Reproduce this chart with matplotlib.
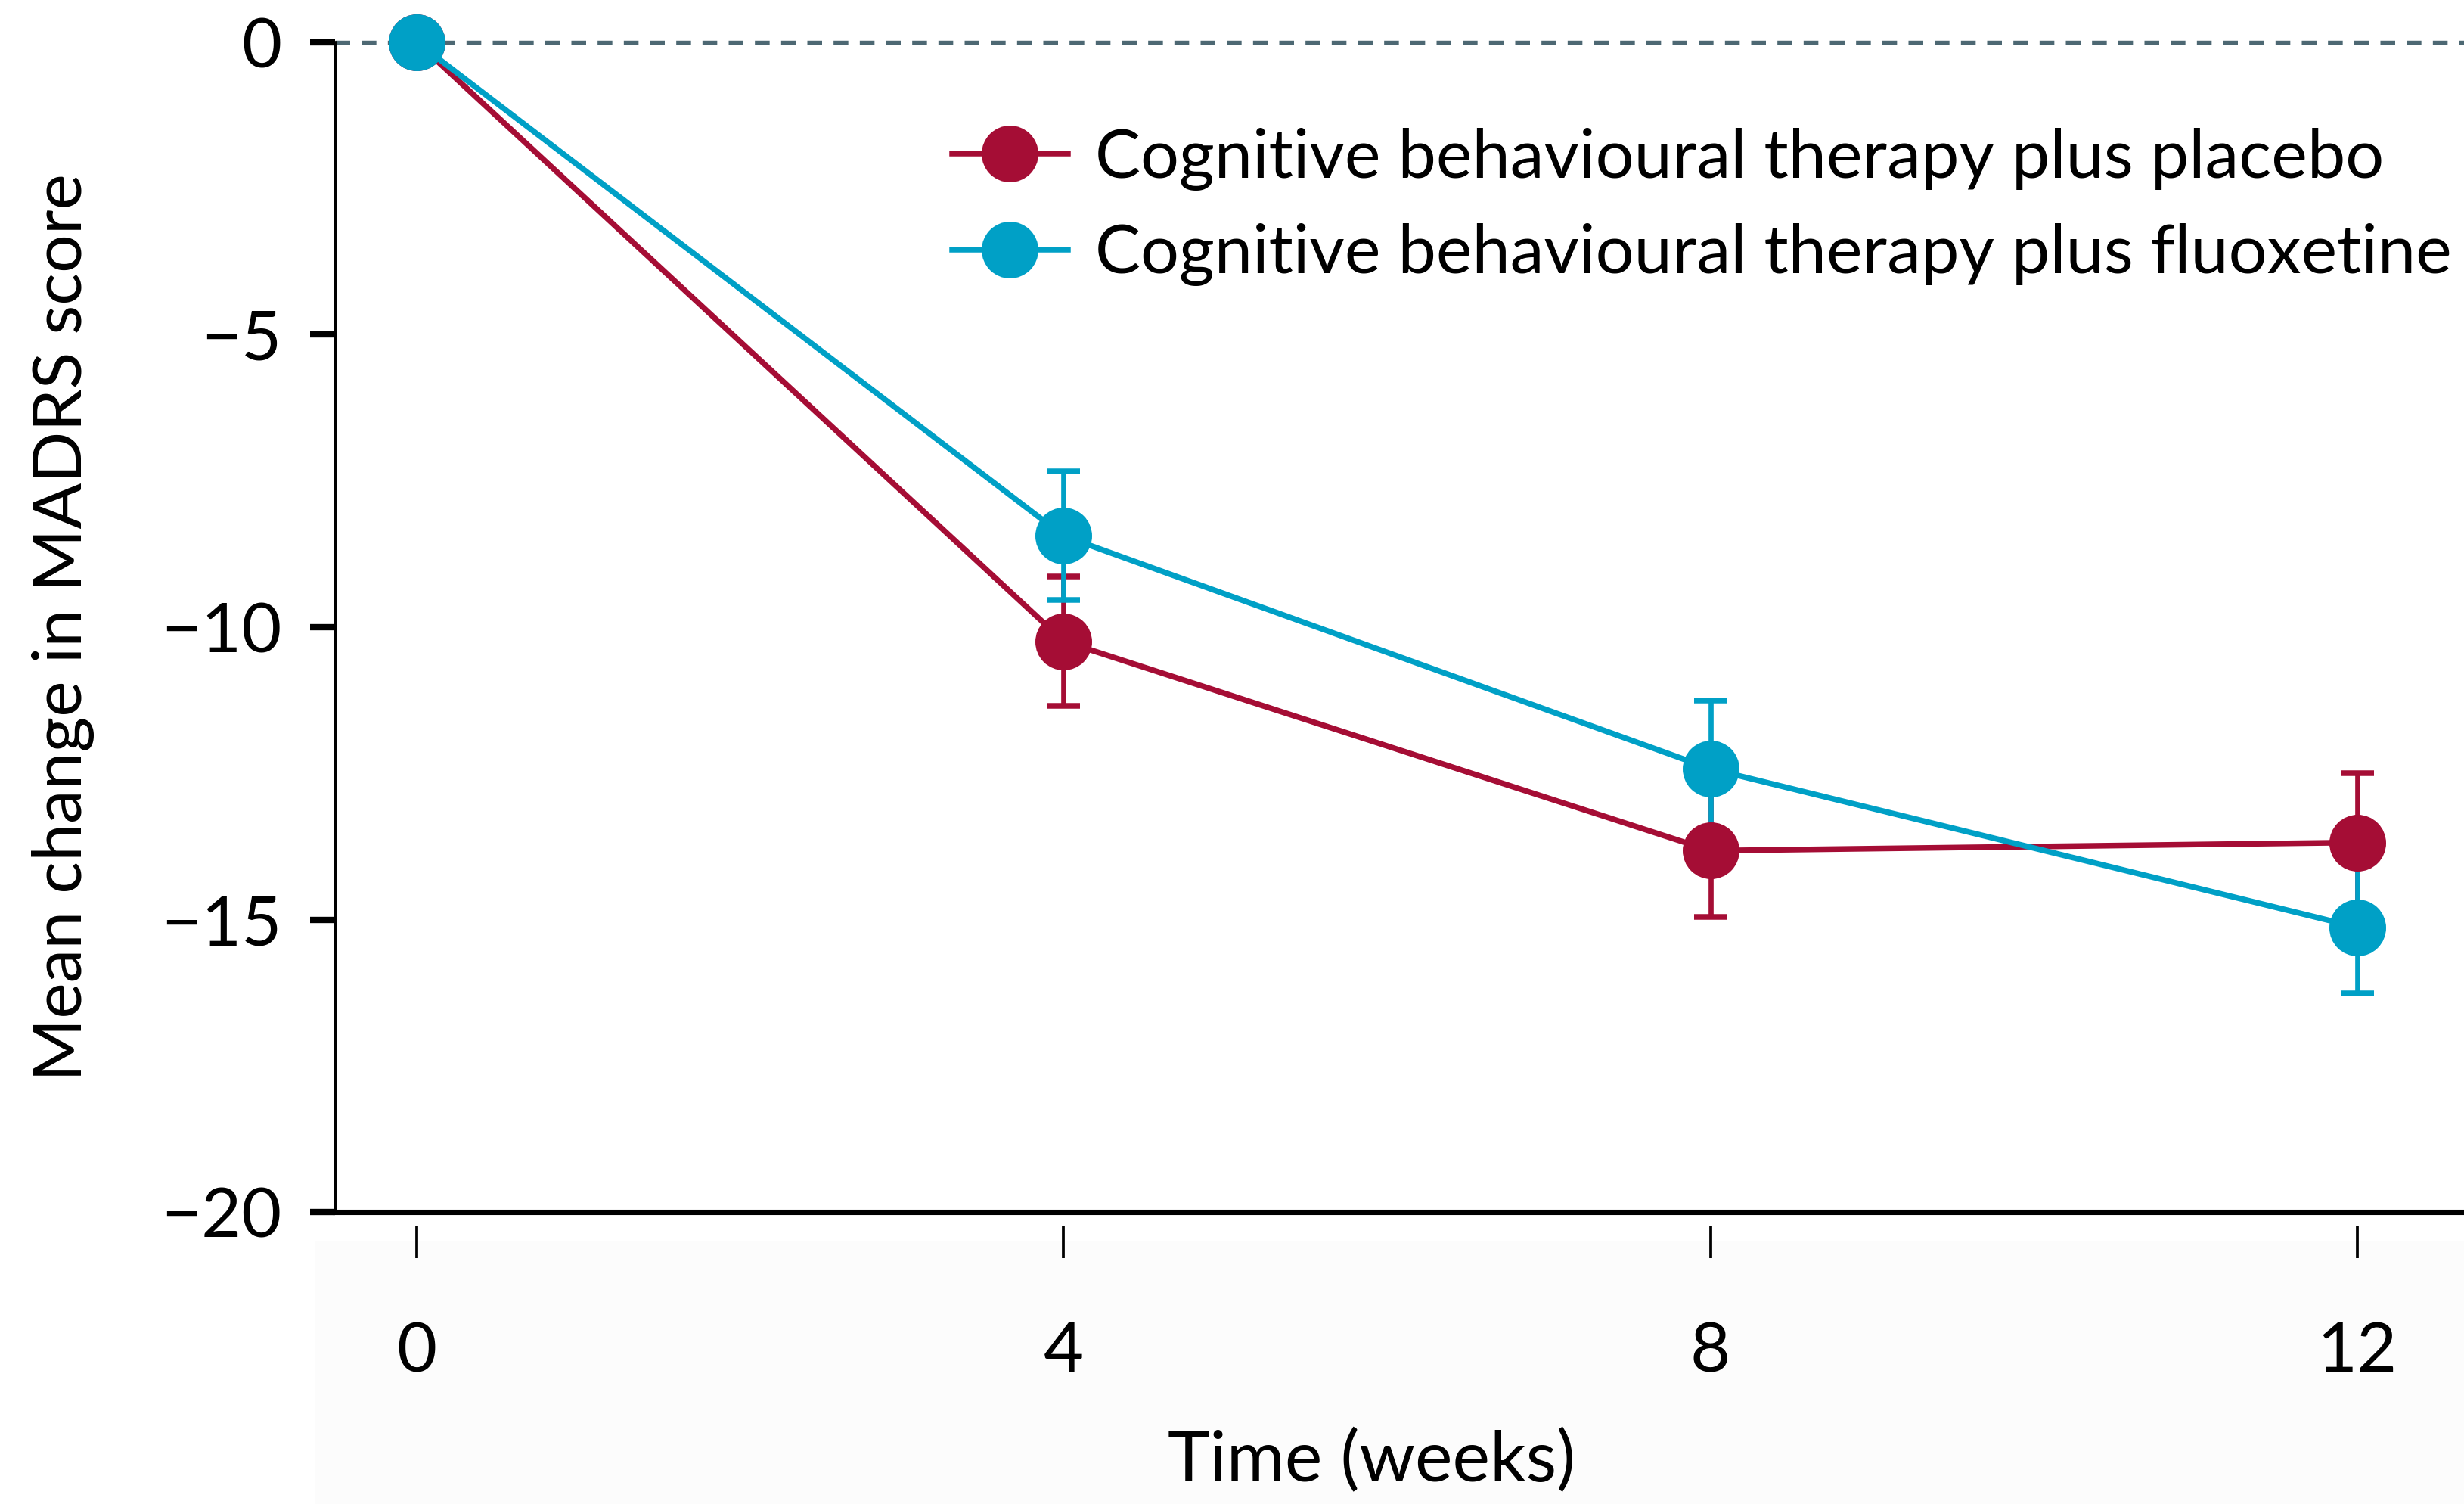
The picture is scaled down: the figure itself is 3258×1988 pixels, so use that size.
import matplotlib
matplotlib.use("Agg")
import matplotlib.pyplot as plt
from matplotlib.lines import Line2D
from matplotlib.patches import Rectangle

# Mean change in MADRS score
weeks = [0, 4, 8, 12]
placebo_mean = [0.0, -10.24, -13.82, -13.68]
placebo_err = [0.0, 1.10, 1.13, 1.18]
fluox_mean = [0.0, -8.44, -12.42, -15.13]
fluox_err = [0.0, 1.10, 1.16, 1.13]

labels = [
    "Cognitive behavioural therapy plus placebo",
    "Cognitive behavioural therapy plus fluoxetine",
]
yticks = [0, -5, -10, -15, -20]
ytick_labels = ["0", "\u22125", "\u221210", "\u221215", "\u221220"]

RED = "#a50d35"
BLUE = "#00a0c6"

plt.rcParams["font.family"] = ["Lato", "DejaVu Sans"]

fig = plt.figure(figsize=(3258 / 300, 1988 / 300), dpi=300)

# faint grey band behind the x tick labels (as in the scan)
fig.patches.append(Rectangle((0.128, 0.0), 0.872, 0.175, transform=fig.transFigure,
                             facecolor="#fcfcfc", edgecolor="none", zorder=-5))

ax = fig.add_axes([0.136, 0.194, 0.864, 0.778])
ax.set_facecolor("none")

ax.axhline(0, color="#4d6873", lw=1.3, ls=(0, (3.6, 2.8)), zorder=1, clip_on=False)

handles = []
for mean, err, color, label in [(placebo_mean, placebo_err, RED, labels[0]),
                                (fluox_mean, fluox_err, BLUE, labels[1])]:
    ax.errorbar(weeks, mean, yerr=err, color=color, lw=1.8, marker="o", ms=17,
                mec=color, elinewidth=1.6, capsize=5.2, capthick=1.8,
                clip_on=False, zorder=3)
    handles.append(Line2D([], [], color=color, lw=1.8, marker="o", ms=17,
                          mec=color, label=label))

ax.set_xlim(-0.505, 12.66)
ax.set_ylim(-20, 0)

for side in ["top", "right"]:
    ax.spines[side].set_visible(False)
ax.spines["left"].set_linewidth(1.1)
# x ticks sit a little below the baseline, with no axis line of their own
ax.spines["bottom"].set_position(("outward", 4.6))
ax.spines["bottom"].set_visible(False)
ax.axhline(-20, color="black", lw=1.7, clip_on=False, zorder=2)

ax.set_yticks(yticks)
ax.set_yticklabels(ytick_labels)
ax.set_xticks(weeks)
ax.set_xticklabels([str(w) for w in weeks])
ax.tick_params(axis="y", length=8, width=2.0, pad=9, labelsize=22)
ax.tick_params(axis="x", length=10, width=0.9, pad=20, labelsize=22)

ax.set_ylabel("Mean change in MADRS score", fontsize=21.5, labelpad=21)
ax.set_xlabel("Time (weeks)", fontsize=22.5, labelpad=14, x=0.487)

ax.legend(handles=handles, loc="upper left", bbox_to_anchor=(0.277, 0.950),
          frameon=False, fontsize=21.6, handlelength=1.7, handletextpad=0.4,
          labelspacing=0.48, borderaxespad=0)

fig.savefig("out.png", dpi=300)
